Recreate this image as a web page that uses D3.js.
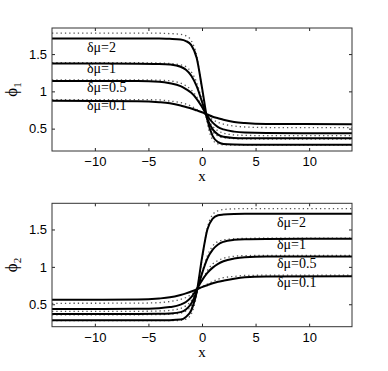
<!DOCTYPE html>
<html>
<head>
<meta charset="utf-8">
<script src="https://cdn.jsdelivr.net/npm/d3@7"></script>
<style>
  body { margin: 0; background: #fff; }
  svg { display: block; }
  .tick text { font-family: "Liberation Sans", Arial, sans-serif; font-size: 13px; fill: #000; }
  .tick line { stroke: #222; }
</style>
</head>
<body>
<svg id="chart" width="388" height="371"></svg>
<script>
// sample positions along x (same for every curve)
const xs = [-14, -6, -4, -3, -2, -1.5, -1, -0.5, 0, 0.5, 1, 1.5, 2, 3, 4, 6, 14];
const labels = ["δμ=2", "δμ=1", "δμ=0.5", "δμ=0.1"];
const xTicks = [-10, -5, 0, 5, 10];
const yTicks = [0.5, 1, 1.5];

// phi_1, solid
const phi1Solid = [
  [1.71, 1.71, 1.71, 1.705, 1.695, 1.675, 1.62, 1.45, 1.05, 0.62, 0.40, 0.32, 0.295, 0.287, 0.285, 0.285, 0.285],
  [1.375, 1.372, 1.368, 1.36, 1.33, 1.29, 1.21, 1.07, 0.86, 0.63, 0.49, 0.42, 0.39, 0.375, 0.371, 0.37, 0.37],
  [1.14, 1.138, 1.13, 1.11, 1.07, 1.03, 0.98, 0.90, 0.79, 0.67, 0.58, 0.52, 0.49, 0.46, 0.447, 0.44, 0.437],
  [0.875, 0.868, 0.855, 0.84, 0.81, 0.79, 0.77, 0.745, 0.72, 0.69, 0.66, 0.64, 0.62, 0.59, 0.575, 0.563, 0.56]
];
// phi_1, dotted
const phi1Dotted = [
  [1.78, 1.78, 1.78, 1.775, 1.765, 1.745, 1.68, 1.48, 1.03, 0.57, 0.35, 0.295, 0.283, 0.28, 0.28, 0.28, 0.28],
  [1.385, 1.384, 1.38, 1.375, 1.355, 1.33, 1.26, 1.12, 0.88, 0.62, 0.46, 0.40, 0.378, 0.366, 0.362, 0.36, 0.36],
  [1.155, 1.154, 1.15, 1.14, 1.11, 1.075, 1.02, 0.93, 0.79, 0.64, 0.53, 0.47, 0.44, 0.416, 0.41, 0.406, 0.405],
  [0.89, 0.889, 0.885, 0.87, 0.85, 0.83, 0.80, 0.76, 0.72, 0.67, 0.62, 0.585, 0.56, 0.535, 0.522, 0.515, 0.513]
];
// phi_2, solid
const phi2Solid = [
  [0.285, 0.285, 0.285, 0.287, 0.295, 0.33, 0.42, 0.66, 1.12, 1.50, 1.645, 1.69, 1.70, 1.708, 1.71, 1.71, 1.71],
  [0.37, 0.37, 0.372, 0.377, 0.395, 0.43, 0.51, 0.67, 0.91, 1.11, 1.23, 1.30, 1.335, 1.362, 1.37, 1.373, 1.375],
  [0.437, 0.44, 0.448, 0.462, 0.495, 0.53, 0.595, 0.70, 0.82, 0.92, 0.99, 1.04, 1.075, 1.112, 1.13, 1.138, 1.14],
  [0.56, 0.563, 0.577, 0.593, 0.625, 0.645, 0.67, 0.70, 0.73, 0.755, 0.78, 0.80, 0.815, 0.842, 0.86, 0.87, 0.875]
];
// phi_2, dotted
const phi2Dotted = [
  [0.28, 0.28, 0.28, 0.28, 0.285, 0.30, 0.37, 0.62, 1.10, 1.52, 1.70, 1.75, 1.767, 1.776, 1.78, 1.78, 1.78],
  [0.36, 0.36, 0.362, 0.367, 0.382, 0.41, 0.48, 0.66, 0.92, 1.15, 1.28, 1.34, 1.36, 1.376, 1.38, 1.384, 1.385],
  [0.405, 0.406, 0.41, 0.418, 0.445, 0.48, 0.55, 0.68, 0.82, 0.95, 1.04, 1.085, 1.115, 1.142, 1.15, 1.154, 1.155],
  [0.513, 0.515, 0.522, 0.537, 0.565, 0.59, 0.63, 0.68, 0.73, 0.77, 0.805, 0.835, 0.855, 0.872, 0.885, 0.889, 0.89]
];

const svg = d3.select("#chart");
const left = 52, right = 352;

const x = d3.scaleLinear().domain([-14, 14]).range([left, right]);

function drawPanel(id, top, bottom, solid, dotted, sub, labelX, labelYs) {
  const y = d3.scaleLinear().domain([0.2, 1.85]).range([bottom, top]);
  const g = svg.append("g");

  g.append("clipPath").attr("id", "clip-" + id)
    .append("rect")
      .attr("x", left).attr("y", top)
      .attr("width", right - left).attr("height", bottom - top);

  const line = d3.line()
    .x((d, i) => x(xs[i]))
    .y(d => y(d))
    .curve(d3.curveMonotoneX);

  const plot = g.append("g").attr("clip-path", `url(#clip-${id})`);

  plot.selectAll(".dotted")
    .data(dotted)
    .enter()
    .append("path")
      .attr("d", line)
      .attr("fill", "none")
      .attr("stroke", "#555")
      .attr("stroke-width", 1.3)
      .attr("stroke-dasharray", "1.3,3");

  plot.selectAll(".solid")
    .data(solid)
    .enter()
    .append("path")
      .attr("d", line)
      .attr("fill", "none")
      .attr("stroke", "#000")
      .attr("stroke-width", 2);

  // axes, ticks pointing inward like a matlab box
  g.append("g")
    .attr("transform", `translate(0,${bottom})`)
    .call(d3.axisBottom(x).tickValues(xTicks).tickSizeInner(-3).tickSizeOuter(0).tickPadding(6)
      .tickFormat(d => d < 0 ? "\u2212" + Math.abs(d) : d))
    .call(a => a.select(".domain").remove());
  g.append("g")
    .attr("transform", `translate(0,${top})`)
    .call(d3.axisTop(x).tickValues(xTicks).tickSizeInner(-3).tickSizeOuter(0).tickFormat(""))
    .call(a => a.select(".domain").remove());
  g.append("g")
    .attr("transform", `translate(${left},0)`)
    .call(d3.axisLeft(y).tickValues(yTicks).tickSizeInner(-3).tickSizeOuter(0).tickPadding(5)
      .tickFormat(d => String(d)))
    .call(a => a.select(".domain").remove());
  g.append("g")
    .attr("transform", `translate(${right},0)`)
    .call(d3.axisRight(y).tickValues(yTicks).tickSizeInner(-3).tickSizeOuter(0).tickFormat(""))
    .call(a => a.select(".domain").remove());

  g.append("rect")
    .attr("x", left).attr("y", top)
    .attr("width", right - left).attr("height", bottom - top)
    .attr("fill", "none")
    .attr("stroke", "#333")
    .attr("stroke-width", 1);

  // curve labels
  g.selectAll(".lab")
    .data(labels)
    .enter()
    .append("text")
      .attr("x", labelX)
      .attr("y", (d, i) => labelYs[i])
      .attr("font-family", "Liberation Serif, Times New Roman, serif")
      .attr("font-size", 14)
      .text(d => d);

  // axis titles
  g.append("text")
    .attr("x", x(0))
    .attr("y", bottom + 30)
    .attr("text-anchor", "middle")
    .attr("font-family", "Liberation Serif, Times New Roman, serif")
    .attr("font-size", 15)
    .text("x");

  const yl = g.append("text")
    .attr("transform", `translate(17,${(top + bottom) / 2}) rotate(-90)`)
    .attr("text-anchor", "middle")
    .attr("font-family", "Liberation Serif, Times New Roman, serif")
    .attr("font-size", 17);
  yl.append("tspan").text("\u03d5");
  yl.append("tspan").attr("dy", 4).attr("font-size", 11).text(sub);
}

drawPanel("a", 28, 151, phi1Solid, phi1Dotted, "1", 87, [52, 73, 92, 110]);
drawPanel("b", 203.3, 326.7, phi2Solid, phi2Dotted, "2", 277, [227, 249, 268, 287]);
</script>
</body>
</html>
